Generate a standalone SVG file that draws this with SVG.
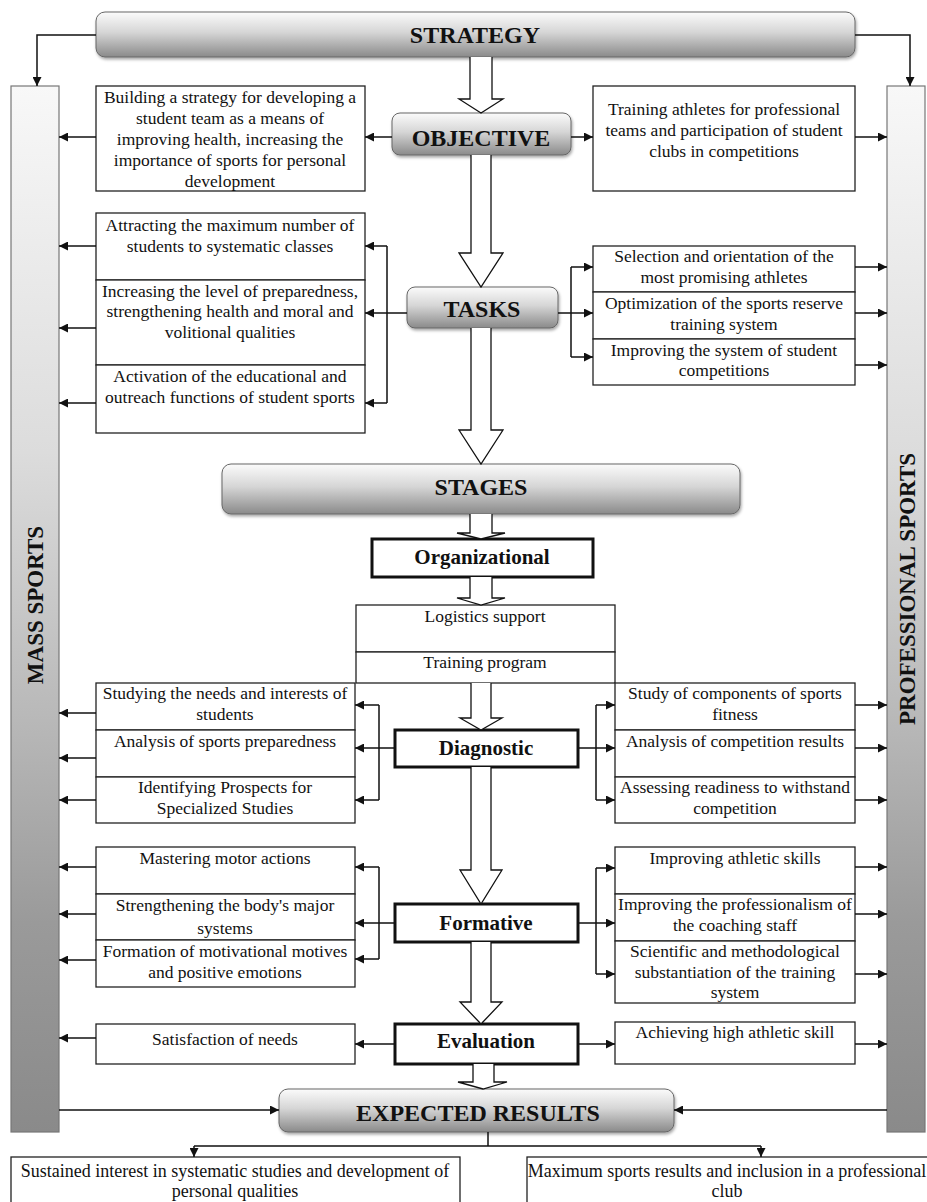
<svg xmlns="http://www.w3.org/2000/svg" width="927" height="1202" viewBox="0 0 927 1202">
<defs>
<linearGradient id="gBar" x1="0" y1="0" x2="0" y2="1">
<stop offset="0" stop-color="#fbfbfb"/><stop offset="0.45" stop-color="#d6d6d6"/><stop offset="1" stop-color="#8a8a8a"/>
</linearGradient>
<linearGradient id="gCol" x1="0" y1="0" x2="0" y2="1">
<stop offset="0" stop-color="#f8f8f8"/><stop offset="0.35" stop-color="#dcdcdc"/><stop offset="0.6" stop-color="#b9b9b9"/><stop offset="0.8" stop-color="#9a9a9a"/><stop offset="1" stop-color="#8a8a8a"/>
</linearGradient>
<filter id="sh" x="-5%" y="-20%" width="110%" height="150%">
<feDropShadow dx="1" dy="2" stdDeviation="1.5" flood-color="#000" flood-opacity="0.35"/>
</filter>
<marker id="ah" viewBox="0 0 10 10" refX="10" refY="5" markerWidth="9" markerHeight="9" markerUnits="userSpaceOnUse" orient="auto">
<path d="M0,0 L10,5 L0,10 z" fill="#111"/>
</marker>
<style>
.t{font-family:"Liberation Serif","Times New Roman",serif;font-size:17.5px;fill:#111;text-anchor:middle}
.b{font-size:18px}
.h{font-weight:bold;font-size:24px}
.s{font-weight:bold;font-size:21px}
.v{font-weight:bold;font-size:23px}
.box{fill:#fff;stroke:#222;stroke-width:1.3}
.thick{fill:#fff;stroke:#111;stroke-width:3}
.bar{fill:url(#gBar);stroke:#666;stroke-width:1;filter:url(#sh)}
.col{fill:url(#gCol);stroke:#777;stroke-width:1.2}
.ln{stroke:#111;stroke-width:1.5;fill:none}
.a{marker-end:url(#ah)}
.blk{fill:#fff;stroke:#111;stroke-width:1.3}
</style>
</defs>
<rect width="927" height="1202" fill="#fff"/>

<g id="mass-sports">
<rect class="col" x="11" y="86" width="48" height="1046"/>
<text class="t v" transform="translate(43,605) rotate(-90)">MASS SPORTS</text>
</g>
<g id="professional-sports">
<rect class="col" x="887" y="86" width="38" height="1046"/>
<text class="t v" transform="translate(915,589) rotate(-90)">PROFESSIONAL SPORTS</text>
</g>

<g id="strategy">
<rect class="bar" x="96" y="12" width="759" height="45" rx="9"/>
<text class="t h" x="475" y="43">STRATEGY</text>
</g>
<g id="objective">
<rect class="bar" x="392" y="113" width="179" height="42" rx="8"/>
<text class="t h" x="481" y="146">OBJECTIVE</text>
</g>
<g id="objective-mass">
<rect class="box" x="96" y="86" width="269" height="105"/>
<text class="t" x="230" y="103">Building a strategy for developing a</text>
<text class="t" x="230" y="124">student team as a means of</text>
<text class="t" x="230" y="145">improving health, increasing the</text>
<text class="t" x="230" y="166">importance of sports for personal</text>
<text class="t" x="230" y="187">development</text>
</g>
<g id="objective-pro">
<rect class="box" x="593" y="86" width="262" height="105"/>
<text class="t" x="724" y="115">Training athletes for professional</text>
<text class="t" x="724" y="136">teams and participation of student</text>
<text class="t" x="724" y="157">clubs in competitions</text>
</g>

<g id="tasks">
<rect class="bar" x="407" y="287" width="151" height="41" rx="8"/>
<text class="t h" x="482" y="317">TASKS</text>
</g>
<g id="tasks-mass">
<rect class="box" x="96" y="213" width="269" height="67"/>
<rect class="box" x="96" y="280" width="269" height="85"/>
<rect class="box" x="96" y="365" width="269" height="68"/>
<text class="t" x="230" y="231">Attracting the maximum number of</text>
<text class="t" x="230" y="252">students to systematic classes</text>
<text class="t" x="230" y="297">Increasing the level of preparedness,</text>
<text class="t" x="230" y="317">strengthening health and moral and</text>
<text class="t" x="230" y="338">volitional qualities</text>
<text class="t" x="230" y="382">Activation of the educational and</text>
<text class="t" x="230" y="403">outreach functions of student sports</text>
</g>
<g id="tasks-pro">
<rect class="box" x="593" y="246" width="262" height="46"/>
<rect class="box" x="593" y="292" width="262" height="47"/>
<rect class="box" x="593" y="339" width="262" height="46"/>
<text class="t" x="724" y="262">Selection and orientation of the</text>
<text class="t" x="724" y="283">most promising athletes</text>
<text class="t" x="724" y="309">Optimization of the sports reserve</text>
<text class="t" x="724" y="330">training system</text>
<text class="t" x="724" y="356">Improving the system of student</text>
<text class="t" x="724" y="376">competitions</text>
</g>

<g id="stages">
<rect class="bar" x="222" y="464" width="518" height="50" rx="9"/>
<text class="t h" x="481" y="495">STAGES</text>
</g>
<g id="organizational">
<rect class="thick" x="372" y="539" width="221" height="38"/>
<text class="t s" x="482" y="564">Organizational</text>
</g>
<g id="organizational-items">
<rect class="box" x="356" y="605" width="259" height="47"/>
<rect class="box" x="356" y="652" width="259" height="31"/>
<text class="t" x="485" y="622">Logistics support</text>
<text class="t" x="485" y="668">Training program</text>
</g>

<g id="diagnostic">
<rect class="thick" x="395" y="730" width="183" height="37"/>
<text class="t s" x="486" y="755">Diagnostic</text>
</g>
<g id="diagnostic-mass">
<rect class="box" x="96" y="683" width="259" height="47"/>
<rect class="box" x="96" y="730" width="259" height="47"/>
<rect class="box" x="96" y="777" width="259" height="46"/>
<text class="t" x="225" y="699">Studying the needs and interests of</text>
<text class="t" x="225" y="720">students</text>
<text class="t" x="225" y="747">Analysis of sports preparedness</text>
<text class="t" x="225" y="793">Identifying Prospects for</text>
<text class="t" x="225" y="814">Specialized Studies</text>
</g>
<g id="diagnostic-pro">
<rect class="box" x="615" y="683" width="240" height="47"/>
<rect class="box" x="615" y="730" width="240" height="47"/>
<rect class="box" x="615" y="777" width="240" height="46"/>
<text class="t" x="735" y="699">Study of components of sports</text>
<text class="t" x="735" y="720">fitness</text>
<text class="t" x="735" y="747">Analysis of competition results</text>
<text class="t" x="735" y="793">Assessing readiness to withstand</text>
<text class="t" x="735" y="814">competition</text>
</g>

<g id="formative">
<rect class="thick" x="395" y="904" width="183" height="38"/>
<text class="t s" x="486" y="930">Formative</text>
</g>
<g id="formative-mass">
<rect class="box" x="96" y="847" width="259" height="47"/>
<rect class="box" x="96" y="894" width="259" height="46"/>
<rect class="box" x="96" y="940" width="259" height="47"/>
<text class="t" x="225" y="864">Mastering motor actions</text>
<text class="t" x="225" y="911">Strengthening the body's major</text>
<text class="t" x="225" y="934">systems</text>
<text class="t" x="225" y="957">Formation of motivational motives</text>
<text class="t" x="225" y="978">and positive emotions</text>
</g>
<g id="formative-pro">
<rect class="box" x="615" y="847" width="240" height="47"/>
<rect class="box" x="615" y="894" width="240" height="47"/>
<rect class="box" x="615" y="941" width="240" height="62"/>
<text class="t" x="735" y="864">Improving athletic skills</text>
<text class="t" x="735" y="910">Improving the professionalism of</text>
<text class="t" x="735" y="931">the coaching staff</text>
<text class="t" x="735" y="957">Scientific and methodological</text>
<text class="t" x="735" y="978">substantiation of the training</text>
<text class="t" x="735" y="998">system</text>
</g>

<g id="evaluation">
<rect class="thick" x="395" y="1024" width="183" height="40"/>
<text class="t s" x="486" y="1048">Evaluation</text>
</g>
<g id="evaluation-mass">
<rect class="box" x="96" y="1024" width="259" height="40"/>
<text class="t" x="225" y="1045">Satisfaction of needs</text>
</g>
<g id="evaluation-pro">
<rect class="box" x="615" y="1022" width="240" height="42"/>
<text class="t" x="735" y="1038">Achieving high athletic skill</text>
</g>

<g id="expected-results">
<rect class="bar" x="279" y="1089" width="395" height="43" rx="9"/>
<text class="t h" x="478" y="1121">EXPECTED RESULTS</text>
</g>
<g id="result-mass">
<rect class="box" x="11" y="1157" width="449" height="60"/>
<text class="t b" x="235" y="1177">Sustained interest in systematic studies and development of</text>
<text class="t b" x="235" y="1197">personal qualities</text>
</g>
<g id="result-pro">
<rect class="box" x="527" y="1157" width="410" height="60"/>
<text class="t b" x="727" y="1177">Maximum sports results and inclusion in a professional</text>
<text class="t b" x="727" y="1197">club</text>
</g>

<g id="connectors">
<g id="block-arrows">
<path class="blk" d="M470,57 V99 H459 L481,113 L503,99 H492 V57"/>
<path class="blk" d="M471,155 V253 H459 L481,287 L503,253 H491 V155"/>
<path class="blk" d="M471,328 V430 H459 L481,464 L503,430 H491 V328"/>
<path class="blk" d="M470,514 V533 H457 L481,539 L505,533 H492 V514"/>
<path class="blk" d="M470,577 V598 H457 L481,605 L505,598 H492 V577"/>
<path class="blk" d="M471,683 V718 H460 L481,730 L502,718 H491 V683"/>
<path class="blk" d="M471,767 V870 H460 L481,904 L502,870 H491 V767"/>
<path class="blk" d="M471,942 V1002 H460 L481,1024 L502,1002 H491 V942"/>
<path class="blk" d="M473,1064 V1082 H458 L483,1089 L507,1082 H494 V1064"/>
</g>
<g id="lines">
<path class="ln a" d="M96,35 H37 V86"/>
<path class="ln a" d="M855,35 H910 V86"/>
<path class="ln a" d="M392,137 H365"/>
<path class="ln a" d="M96,137 H59"/>
<path class="ln a" d="M571,137 H593"/>
<path class="ln a" d="M855,137 H887"/>

<path class="ln" d="M407,313 H387 M387,246 V403"/>
<path class="ln a" d="M387,246 H365"/>
<path class="ln a" d="M387,313 H365"/>
<path class="ln a" d="M387,403 H365"/>
<path class="ln a" d="M96,246 H59"/>
<path class="ln a" d="M96,328 H59"/>
<path class="ln a" d="M96,403 H59"/>
<path class="ln" d="M558,313 H571 M571,267 V357"/>
<path class="ln a" d="M571,267 H593"/>
<path class="ln a" d="M571,313 H593"/>
<path class="ln a" d="M571,357 H593"/>
<path class="ln a" d="M855,267 H887"/>
<path class="ln a" d="M855,313 H887"/>
<path class="ln a" d="M855,365 H887"/>

<path class="ln" d="M395,748 H379 M379,705 V800"/>
<path class="ln a" d="M379,705 H355"/>
<path class="ln a" d="M379,748 H355"/>
<path class="ln a" d="M379,800 H355"/>
<path class="ln a" d="M96,713 H59"/>
<path class="ln a" d="M96,758 H59"/>
<path class="ln a" d="M96,800 H59"/>
<path class="ln" d="M578,748 H596 M596,705 V800"/>
<path class="ln a" d="M596,705 H615"/>
<path class="ln a" d="M596,748 H615"/>
<path class="ln a" d="M596,800 H615"/>
<path class="ln a" d="M855,705 H887"/>
<path class="ln a" d="M855,748 H887"/>
<path class="ln a" d="M855,800 H887"/>

<path class="ln" d="M395,923 H379 M379,867 V959"/>
<path class="ln a" d="M379,867 H355"/>
<path class="ln a" d="M379,923 H355"/>
<path class="ln a" d="M379,959 H355"/>
<path class="ln a" d="M96,867 H59"/>
<path class="ln a" d="M96,914 H59"/>
<path class="ln a" d="M96,960 H59"/>
<path class="ln" d="M578,923 H596 M596,868 V974"/>
<path class="ln a" d="M596,868 H615"/>
<path class="ln a" d="M596,923 H615"/>
<path class="ln a" d="M596,974 H615"/>
<path class="ln a" d="M855,867 H887"/>
<path class="ln a" d="M855,914 H887"/>
<path class="ln a" d="M855,974 H887"/>

<path class="ln a" d="M395,1044 H355"/>
<path class="ln a" d="M96,1038 H59"/>
<path class="ln a" d="M578,1044 H615"/>
<path class="ln a" d="M855,1044 H887"/>

<path class="ln a" d="M59,1110 H279"/>
<path class="ln a" d="M887,1110 H674"/>
<path class="ln" d="M488,1132 V1146 M194,1146 H761"/>
<path class="ln a" d="M194,1146 V1157"/>
<path class="ln a" d="M761,1146 V1157"/>
</g>
</g>
</svg>
